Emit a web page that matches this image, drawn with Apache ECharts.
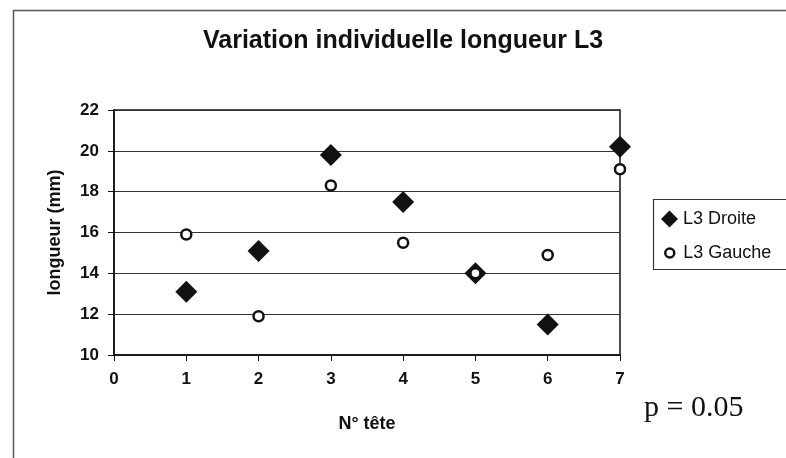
<!DOCTYPE html>
<html>
<head>
<meta charset="utf-8">
<script src="https://cdn.jsdelivr.net/npm/echarts@6/dist/echarts.min.js"></script>
<style>html,body{margin:0;padding:0;background:#fff;}#c{width:786px;height:458px;}</style>
</head>
<body>
<div id="c"></div>
<script>
const heads = [1, 2, 3, 4, 5, 6, 7];
const droite = [13.1, 15.1, 19.8, 17.5, 14.0, 11.5, 20.2];
const gauche = [15.9, 11.9, 18.3, 15.5, 14.0, 14.9, 19.1];
const xTicks = [0, 1, 2, 3, 4, 5, 6, 7];
const yTicks = [10, 12, 14, 16, 18, 20, 22];

const chart = echarts.init(document.getElementById('c'));
const font = '"Liberation Sans", Arial, sans-serif';
const legendText = { fontFamily: font, fontSize: 18, color: '#111' };
chart.setOption({
  animation: false,
  backgroundColor: '#fff',
  title: {
    text: 'Variation individuelle longueur L3',
    left: 198, top: 24,
    textStyle: { fontFamily: font, fontWeight: 'bold', fontSize: 25, color: '#111' }
  },
  legend: [
    {
      orient: 'vertical', left: 656, top: 205,
      itemWidth: 17, itemHeight: 17, itemGap: 5,
      textStyle: legendText,
      data: [{ name: 'L3 Droite', icon: 'diamond' }]
    },
    {
      orient: 'vertical', left: 659, top: 239,
      itemWidth: 9, itemHeight: 9,
      textStyle: Object.assign({ padding: [0, 0, 0, 4] }, legendText),
      data: [{ name: 'L3 Gauche', icon: 'circle', itemStyle: { borderWidth: 2.5 } }]
    }
  ],
  grid: { left: 114, right: 166, top: 110, bottom: 103, show: true, borderColor: '#111', borderWidth: 1.5 },
  xAxis: {
    type: 'value', min: xTicks[0], max: xTicks[xTicks.length - 1], interval: 1,
    name: 'N° tête', nameLocation: 'middle', nameGap: 60,
    nameTextStyle: { fontFamily: font, fontWeight: 'bold', fontSize: 18, color: '#111' },
    axisLine: { lineStyle: { color: '#111', width: 1.5 } },
    axisTick: { show: true, inside: false, length: 6, lineStyle: { color: '#111' } },
    axisLabel: { fontFamily: font, fontWeight: 'bold', fontSize: 17, color: '#111', margin: 16 },
    splitLine: { show: false }
  },
  yAxis: {
    type: 'value', min: yTicks[0], max: yTicks[yTicks.length - 1], interval: 2,
    name: 'longueur (mm)', nameLocation: 'middle', nameGap: 50, nameRotate: 90,
    nameTextStyle: { fontFamily: font, fontWeight: 'bold', fontSize: 18, color: '#111' },
    axisLine: { lineStyle: { color: '#111', width: 1.5 } },
    axisTick: { show: true, inside: false, length: 6, lineStyle: { color: '#111' } },
    axisLabel: { fontFamily: font, fontWeight: 'bold', fontSize: 17, color: '#111', margin: 15 },
    splitLine: { show: true, lineStyle: { color: '#333', width: 1 } }
  },
  series: [
    {
      name: 'L3 Droite', type: 'scatter', symbol: 'diamond', symbolSize: 22,
      itemStyle: { color: '#111', opacity: 1 },
      data: heads.map((h, i) => [h, droite[i]]), z: 2
    },
    {
      name: 'L3 Gauche', type: 'scatter', symbol: 'circle', symbolSize: 10,
      itemStyle: { color: '#fff', borderColor: '#111', borderWidth: 2.5, opacity: 1 },
      data: heads.map((h, i) => [h, gauche[i]]), z: 3
    }
  ],
  graphic: [
    { type: 'rect', left: 11, top: 8, shape: { x: 0, y: 0, width: 800, height: 500 },
      style: { fill: 'none', stroke: '#555', lineWidth: 1.5 }, z: 0, silent: true },
    { type: 'rect', left: 651, top: 197, shape: { x: 0, y: 0, width: 134, height: 70 },
      style: { fill: 'none', stroke: '#333', lineWidth: 1.2 }, z: 0, silent: true },
    { type: 'text', left: 644, top: 393,
      style: { text: 'p = 0.05', font: '30px "Liberation Serif", "Times New Roman", serif', fill: '#111' } }
  ]
});
</script>
</body>
</html>
